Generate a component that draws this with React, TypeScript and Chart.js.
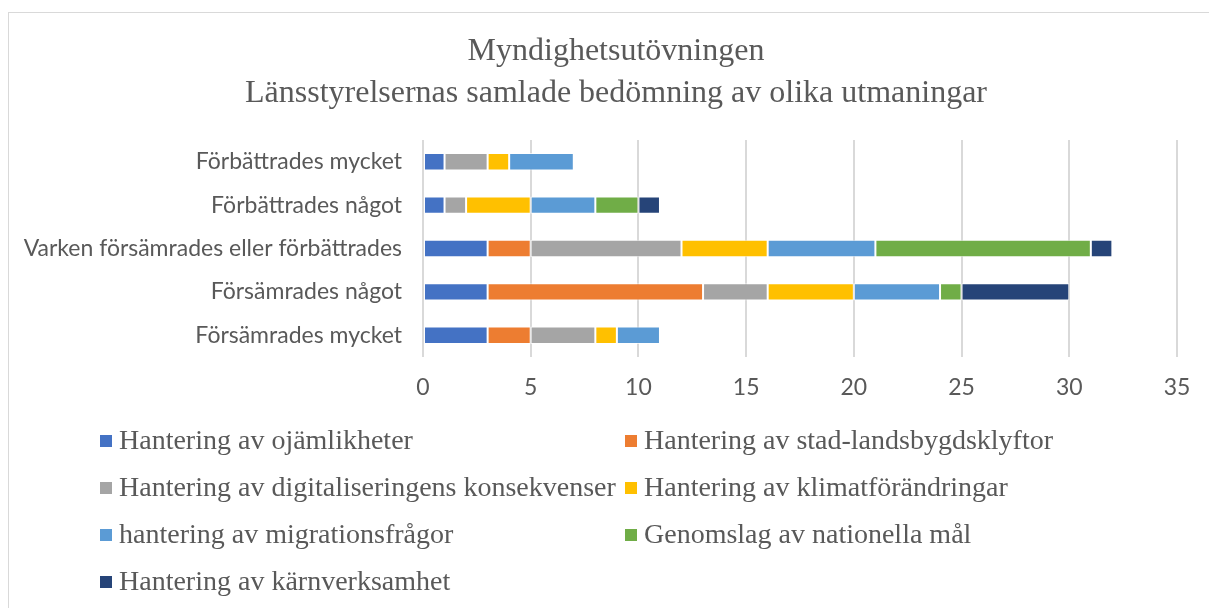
import React, { useEffect, useRef } from "react";
import { Chart, registerables } from "chart.js";

Chart.register(...registerables);

const titleLines = ["Myndighetsutövningen", "Länsstyrelsernas samlade bedömning av olika utmaningar"];

const categories = [
  "Förbättrades mycket",
  "Förbättrades något",
  "Varken försämrades eller förbättrades",
  "Försämrades något",
  "Försämrades mycket",
];

const seriesNames = [
  "Hantering av ojämlikheter",
  "Hantering av stad-landsbygdsklyftor",
  "Hantering av digitaliseringens konsekvenser",
  "Hantering av klimatförändringar",
  "hantering av migrationsfrågor",
  "Genomslag av nationella mål",
  "Hantering av kärnverksamhet",
];

const ojamlikheter = [1, 1, 3, 3, 3];
const stadLandsbygd = [0, 0, 2, 10, 2];
const digitalisering = [2, 1, 7, 3, 3];
const klimat = [1, 3, 4, 4, 1];
const migration = [3, 3, 5, 4, 2];
const nationellaMal = [0, 2, 10, 1, 0];
const karnverksamhet = [0, 1, 1, 5, 0];

const seriesValues = [ojamlikheter, stadLandsbygd, digitalisering, klimat, migration, nationellaMal, karnverksamhet];

const colors = ["#4472C4", "#ED7D31", "#A5A5A5", "#FFC000", "#5B9BD5", "#70AD47", "#264478"];

const xTicks = [0, 5, 10, 15, 20, 25, 30, 35];

const titlePlugin = {
  id: "serifTitle",
  afterDraw(chart: any) {
    const ctx = chart.ctx;
    ctx.save();
    ctx.font = '32px "Liberation Serif"';
    ctx.fillStyle = "#595959";
    ctx.textBaseline = "middle";
    ctx.textAlign = "center";
    const ys = [39, 81];
    titleLines.forEach((t, i) => ctx.fillText(t, 607, ys[i]));
    ctx.restore();
  },
};

const legendPlugin = {
  id: "gridLegend",
  afterDraw(chart: any) {
    const ctx = chart.ctx;
    ctx.save();
    ctx.font = '28px "Liberation Serif"';
    ctx.textBaseline = "middle";
    ctx.textAlign = "left";
    const colSwatch = [91, 616];
    const rowY = [428, 475, 522, 569];
    seriesNames.forEach((name, i) => {
      const col = i % 2;
      const row = Math.floor(i / 2);
      const y = rowY[row];
      ctx.fillStyle = colors[i];
      ctx.fillRect(colSwatch[col], y - 6, 12, 12);
      ctx.fillStyle = "#595959";
      ctx.fillText(name, colSwatch[col] + 19, y + 1);
    });
    ctx.restore();
  },
};

export default function App() {
  const canvasRef = useRef<HTMLCanvasElement | null>(null);

  useEffect(() => {
    if (!canvasRef.current) return;
    const chart = new Chart(canvasRef.current, {
      type: "bar",
      data: {
        labels: categories,
        datasets: seriesNames.map((name, i) => ({
          label: name,
          data: seriesValues[i],
          backgroundColor: colors[i],
          borderColor: "rgba(255,255,255,0.7)",
          borderWidth: 1,
          borderSkipped: false,
          barPercentage: 0.4,
          categoryPercentage: 1,
        })),
      },
      options: {
        indexAxis: "y",
        animation: false,
        responsive: true,
        maintainAspectRatio: false,
        layout: { padding: { left: 0, right: 45, top: 127, bottom: 201 } },
        plugins: {
          legend: { display: false },
          tooltip: { enabled: false },
          title: { display: false },
        },
        scales: {
          x: {
            stacked: true,
            min: 0,
            max: 35,
            afterBuildTicks: (s: any) => {
              s.ticks = xTicks.map((v) => ({ value: v }));
            },
            afterFit: (s: any) => {
              s.height = 50;
            },
            grid: { color: "#D9D9D9", lineWidth: 2, drawTicks: false },
            border: { display: false },
            ticks: {
              color: "#595959",
              font: { family: "Lato", size: 23 },
              padding: 17,
            },
          },
          y: {
            stacked: true,
            afterFit: (s: any) => {
              s.width = 414;
            },
            grid: { display: false, drawTicks: false },
            border: { display: false },
            ticks: {
              color: "#595959",
              font: { family: "Lato", size: 23 },
              padding: 21,
            },
          },
        },
      },
      plugins: [titlePlugin, legendPlugin],
    });
    return () => chart.destroy();
  }, []);

  return (
    <div style={{ position: "fixed", left: 0, top: 0, width: 1209, height: 608, overflow: "hidden", background: "#fff" }}>
      <div
        style={{
          position: "absolute",
          left: 8,
          top: 12,
          width: 1213,
          height: 595,
          borderTop: "1px solid #D9D9D9",
          borderLeft: "1px solid #D9D9D9",
        }}
      >
        <div style={{ position: "relative", width: 1213, height: 595 }}>
          <canvas ref={canvasRef} />
        </div>
      </div>
    </div>
  );
}
